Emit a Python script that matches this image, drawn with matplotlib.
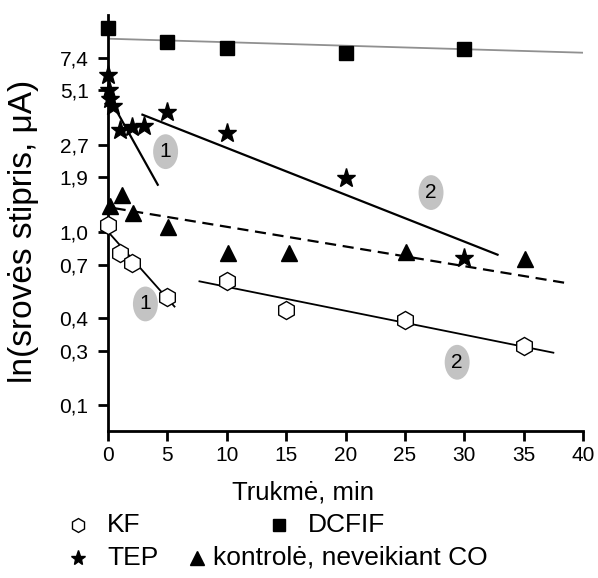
import numpy as np
import matplotlib.pyplot as plt
from matplotlib.patches import Ellipse
from matplotlib.lines import Line2D

plt.rcParams['font.family'] = ['Liberation Sans', 'DejaVu Sans']

# y values are ln(I); axis is linear in ln(I)
kf_t = [0, 1, 2, 5, 10, 15, 25, 35]
kf_y = [0.08, -0.245, -0.36, -0.75, -0.57, -0.90, -1.01, -1.31]

dcfif_t = [0, 5, 10, 20, 30]
dcfif_y = [2.345, 2.184, 2.115, 2.057, 2.103]

tep_t = [0, 0.1, 0.2, 0.4, 1, 2, 3, 5, 10, 20, 30]
tep_y = [1.80, 1.63, 1.52, 1.45, 1.17, 1.20, 1.22, 1.37, 1.13, 0.62, -0.30]

ctrl_t = [0.15, 1.15, 2.1, 5.05, 10.1, 15.2, 25.1, 35.1]
ctrl_y = [0.29, 0.425, 0.22, 0.06, -0.24, -0.24, -0.23, -0.31]

# fitted lines (endpoints)
dcfif_fit = ([0, 40], [2.218, 2.057])
tep_fit1 = ([0.57, 4.19], [1.425, 0.54])
tep_fit2 = ([2.9, 32.8], [1.345, -0.264])
ctrl_fit = ([0.56, 38.6], [0.27, -0.59])
kf_fit1 = ([0, 5.6], [0.0, -0.86])
kf_fit2 = ([7.7, 37.5], [-0.57, -1.39])

# region labels
lab_text = ['1', '1', '2', '2']
lab_t = [4.85, 3.15, 27.2, 29.4]
lab_y = [0.92, -0.83, 0.45, -1.50]

ytick_pos = [2.0, 1.63, 1.0, 0.63, 0.0, -0.38, -0.99, -1.37, -1.99]
ytick_lab = ['7,4', '5,1', '2,7', '1,9', '1,0', '0,7', '0,4', '0,3', '0,1']

fig = plt.figure(figsize=(5.98, 5.78), dpi=100)
ax = fig.add_axes([0.1806, 0.2543, 0.7944, 0.7197])

ax.plot(*dcfif_fit, color='#909090', lw=1.3)
ax.plot(*tep_fit1, color='black', lw=1.6)
ax.plot(*tep_fit2, color='black', lw=1.6)
ax.plot(*ctrl_fit, color='black', lw=1.6, ls=(0, (5, 3)))
ax.plot(*kf_fit1, color='black', lw=1.3)
ax.plot(*kf_fit2, color='black', lw=1.3)

for txt, x, y in zip(lab_text, lab_t, lab_y):
    ax.add_patch(Ellipse((x, y), 2.1, 0.40, color='#c3c3c3', lw=0, zorder=2))
    ax.text(x, y, txt, ha='center', va='center', fontsize=15, zorder=3)

ax.plot(dcfif_t, dcfif_y, 's', color='black', ms=10, ls='none', clip_on=False, zorder=4)
ax.plot(tep_t, tep_y, '*', color='black', ms=14, ls='none', clip_on=False, zorder=4)
ax.plot(ctrl_t, ctrl_y, '^', color='black', ms=12, ls='none', clip_on=False, zorder=4)
ax.plot(kf_t, kf_y, 'h', mfc='white', mec='black', mew=1, ms=13, ls='none',
        clip_on=False, zorder=4)

ax.set_xlim(0, 40)
ax.set_ylim(-2.29, 2.49)
ax.set_xticks(range(0, 41, 5))
ax.set_yticks(ytick_pos)
ax.set_yticklabels(ytick_lab)
ax.spines['top'].set_visible(False)
ax.spines['right'].set_visible(False)
ax.spines['left'].set_linewidth(2)
ax.spines['bottom'].set_linewidth(2)
ax.tick_params(width=2, length=7, labelsize=15)
ax.tick_params(axis='y', pad=7)
ax.tick_params(axis='x', pad=4)
ax.set_xlabel('Trukmė, min', fontsize=18.5, va='center')
ax.xaxis.set_label_coords(0.41, -0.149)
ax.set_ylabel('ln(srovės stipris, μA)', fontsize=24)
ax.yaxis.set_label_coords(-0.145, 0.48)

# legend drawn by hand to keep the uneven layout
W, H = 598.0, 578.0
leg = [('h', 'KF', 78, 525, 107, dict(mfc='white', mec='black', mew=1, ms=10)),
       ('s', 'DCFIF', 279, 525, 308, dict(color='black', ms=8)),
       ('*', 'TEP', 78, 558, 107, dict(color='black', ms=11)),
       ('^', 'kontrolė, neveikiant CO', 197, 558, 213, dict(color='black', ms=10))]
for m, label, mx, my, tx, kw in leg:
    fig.add_artist(Line2D([mx / W], [1 - my / H], marker=m, ls='none',
                          transform=fig.transFigure, **kw))
    fig.text(tx / W, 1 - my / H, label, fontsize=19, va='center', ha='left')

fig.savefig('out.png', dpi=100)
